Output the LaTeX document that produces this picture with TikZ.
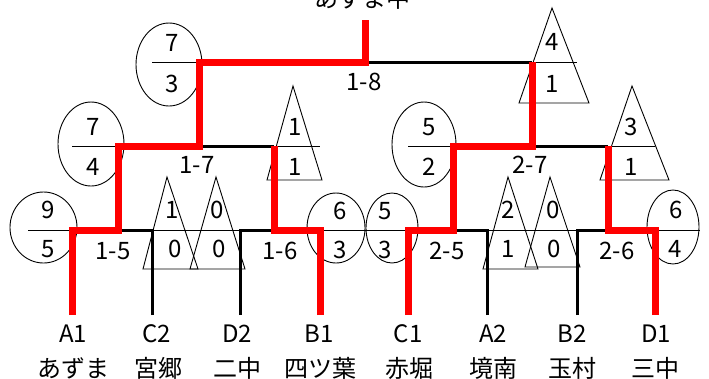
\documentclass[tikz,border=0pt]{standalone}
\usepackage{fontspec}
\setmainfont{Noto Sans CJK JP}
\usetikzlibrary{shapes.geometric}
\begin{document}
\begin{tikzpicture}[x=1pt,y=-1pt,
  win/.style={draw=red,line width=7pt,line join=miter},
  lose/.style={draw=black,line width=3pt,line join=miter},
  frac/.style={draw=black,line width=0.9pt},
  oval/.style={ellipse,draw,line width=0.9pt,inner sep=0pt},
  tri/.style={draw,line width=0.9pt,line join=miter},
  num/.style={inner sep=0pt,font=\fontsize{24}{24}\selectfont}]
\useasboundingbox (0,0) rectangle (709,378);

% ---- coordinates of the bracket
\coordinate (a1) at (72,315);
\coordinate (c2) at (152,315);
\coordinate (d2) at (240,315);
\coordinate (b1) at (320,315);
\coordinate (c1) at (408,315);
\coordinate (a2) at (487,315);
\coordinate (b2) at (577,315);
\coordinate (d1) at (655,315);
\coordinate (j15) at (118,230);
\coordinate (j16) at (274,230);
\coordinate (j25) at (453,230);
\coordinate (j26) at (608,230);
\coordinate (j17) at (199,146);
\coordinate (j27) at (532,146);
\coordinate (j18) at (365,62);
\coordinate (top) at (365,20);

% ---- score markers: level 1
\node[oval,minimum width=67pt,minimum height=71pt] (o15) at (43.5,227.5) {};
\draw[frac] (28,230) -- (72,230);
\node[num] (o15t) at (48,210) {9};
\node[num] (o15b) at (48,249) {5};

\draw[tri] (167,177) -- (143,269) -- (198,269) -- cycle;
\draw[frac] (143,230) -- (198,230);
\node[num] (t15t) at (172,210) {1};
\node[num] (t15b) at (175,249) {0};

\draw[tri] (216,177) -- (190,269) -- (245,269) -- cycle;
\draw[frac] (190,230) -- (245,230);
\node[num] (t16t) at (217,210) {0};
\node[num] (t16b) at (219,249) {0};

\node[oval,minimum width=58pt,minimum height=70pt] (o16) at (336,228) {};
\node[oval,minimum width=52pt,minimum height=70pt] (o25) at (392,228) {};
\draw[frac] (320,230) -- (408,230);
\node[num] (o16t) at (340,211) {6};
\node[num] (o16b) at (340,250) {3};
\node[num] (o25t) at (385,211) {5};
\node[num] (o25b) at (385,250) {3};

\draw[tri] (508,177) -- (483,269) -- (538,269) -- cycle;
\draw[frac] (483,230) -- (538,230);
\node[num] (t25t) at (508,210) {2};
\node[num] (t25b) at (508,249) {1};

\draw[tri] (550,177) -- (525,267) -- (580,267) -- cycle;
\draw[frac] (525,230) -- (580,230);
\node[num] (t26t) at (553,210) {0};
\node[num] (t26b) at (554,249) {0};

\node[oval,minimum width=52pt,minimum height=74pt] (o26) at (673,227) {};
\draw[frac] (655,230) -- (700,230);
\node[num] (o26t) at (676,210) {6};
\node[num] (o26b) at (675,249) {4};

% ---- level 2
\node[oval,minimum width=66pt,minimum height=84pt] (o17) at (91,144) {};
\draw[frac] (72,146) -- (118,146);
\node[num] (o17t) at (93,127) {7};
\node[num] (o17b) at (93,167) {4};

\draw[tri] (293,86) -- (267,180) -- (322,180) -- cycle;
\draw[frac] (274,146) -- (320,146);
\node[num] (t17t) at (295,127) {1};
\node[num] (t17b) at (295,167) {1};

\node[oval,minimum width=64pt,minimum height=85pt] (o27) at (424,144.5) {};
\draw[frac] (408,146) -- (453,146);
\node[num] (o27t) at (429,127) {5};
\node[num] (o27b) at (429,167) {2};

\draw[tri] (632,86) -- (600,180) -- (669,180) -- cycle;
\draw[frac] (608,146) -- (655,146);
\node[num] (t27t) at (631,127) {3};
\node[num] (t27b) at (631,167) {1};

% ---- level 3
\node[oval,minimum width=66pt,minimum height=83pt] (o18) at (169,64.5) {};
\draw[frac] (152,62) -- (199,62);
\node[num] (o18t) at (172,43) {7};
\node[num] (o18b) at (172,84) {3};

\draw[tri] (552,8) -- (519,103) -- (589,103) -- cycle;
\draw[frac] (532,62) -- (577,62);
\node[num] (t18t) at (552,42) {4};
\node[num] (t18b) at (552,84) {1};

% ---- losing lines
\draw[lose] (c2) -- (c2 |- j15) -- (j15);
\draw[lose] (d2) -- (d2 |- j16) -- (j16);
\draw[lose] (a2) -- (a2 |- j25) -- (j25);
\draw[lose] (b2) -- (b2 |- j26) -- (j26);
\draw[lose] (j16 |- j17) -- (j17);
\draw[lose] (j26 |- j27) -- (j27);
\draw[lose] (j27 |- j18) -- (j18);

% ---- winning lines
\draw[win] (a1) -- (a1 |- j15) -- (j15) -- (j15 |- j17) -- (j17) -- (j17 |- j18) -- (j18) -- (top);
\draw[win] (b1) -- (b1 |- j16) -- (j16) -- (j16 |- j17);
\draw[win] (c1) -- (c1 |- j25) -- (j25) -- (j25 |- j27) -- (j27) -- (j27 |- j18);
\draw[win] (d1) -- (d1 |- j26) -- (j26) -- (j26 |- j27);

% ---- match labels
\node[num] (m18) at (364,82) {1-8};
\node[num] (m17) at (197,165) {1-7};
\node[num] (m27) at (530,165) {2-7};
\node[num] (m15) at (113,251) {1-5};
\node[num] (m16) at (280,251) {1-6};
\node[num] (m25) at (447,251) {2-5};
\node[num] (m26) at (617,251) {2-6};

% ---- champion
\node[num,anchor=base] (champ) at (362,7) {あずま中};

% ---- team codes and names
\node[num] (la1) at (73,334) {A1};
\node[num] (lc2) at (157,334) {C2};
\node[num] (ld2) at (237,334) {D2};
\node[num] (lb1) at (319,334) {B1};
\node[num] (lc1) at (408,334) {C1};
\node[num] (la2) at (493,334) {A2};
\node[num] (lb2) at (572,334) {B2};
\node[num] (ld1) at (656,334) {D1};
\node[num] (na1) at (73,368) {あずま};
\node[num] (nc2) at (158,368) {宮郷};
\node[num] (nd2) at (237,368) {二中};
\node[num] (nb1) at (320,368) {四ツ葉};
\node[num] (nc1) at (409,368) {赤堀};
\node[num] (na2) at (493,368) {境南};
\node[num] (nb2) at (572,368) {玉村};
\node[num] (nd1) at (655,368) {三中};
\end{tikzpicture}
\end{document}
